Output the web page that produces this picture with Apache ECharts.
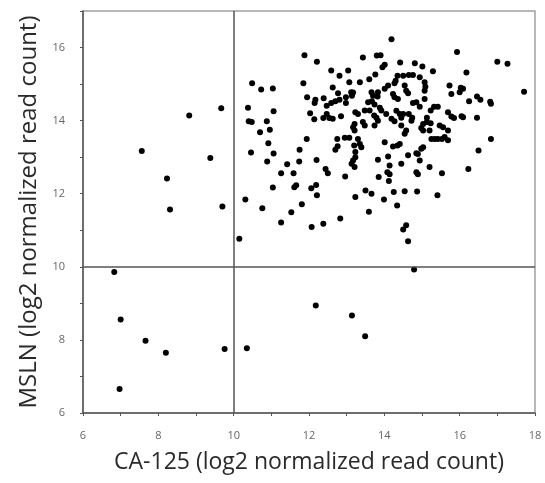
<!DOCTYPE html>
<html><head><meta charset="utf-8">
<script src="https://cdn.jsdelivr.net/npm/echarts@6/dist/echarts.min.js"></script>
<style>html,body{margin:0;padding:0;background:#fff}#c{width:545px;height:483px}</style>
</head><body><div id="c"></div>
<script>
// CA-125 (x) values
const ca125 = [
8.82,9.67,7.56,9.38,8.23,8.31,9.70,6.83,7.00,7.66,8.20,9.76,6.97,10.35,12.18,13.14,13.49,14.79,10.15,
11.88,12.21,12.59,12.81,13.04,13.07,10.49,10.73,11.04,11.85,12.63,12.77,11.95,12.17,12.15,12.39,12.59,12.70,12.81,12.47,12.98,12.98,13.12,10.38,11.06,12.03,12.14,12.38,12.47,12.54,12.63,12.85,10.40,10.48,10.88,10.96,10.70,11.94,12.75,12.95,13.07,12.76,12.70,10.92,10.46,11.06,11.75,10.89,11.74,11.42,12.20,12.44,12.50,11.26,11.59,12.96,13.13,11.04,11.61,11.66,12.06,12.19,12.21,10.31,10.76,11.81,11.53,11.26,12.07,12.38,12.83,
14.19,15.93,13.43,13.80,13.90,14.42,14.81,14.01,13.95,15.01,15.29,16.18,13.76,13.60,13.35,14.35,14.50,14.65,14.76,14.94,14.30,14.27,14.10,14.01,15.07,15.09,15.07,14.54,14.58,14.63,15.73,15.78,16.09,16.00,13.17,13.14,13.66,13.83,13.70,13.82,14.23,14.27,14.36,15.07,14.85,14.94,14.76,15.32,15.23,15.42,13.57,13.67,13.74,13.88,13.92,14.05,13.61,13.48,13.23,13.30,14.32,14.41,14.50,14.45,14.65,14.74,14.72,14.19,14.27,13.73,13.79,13.83,15.69,15.78,15.85,16.09,15.13,15.13,15.03,14.98,15.03,15.23,15.20,15.47,15.56,15.69,13.21,13.17,13.21,13.43,13.48,13.74,14.45,14.54,14.58,13.30,13.35,13.39,15.25,15.34,15.42,15.53,15.60,15.69,14.01,14.23,14.35,14.41,13.20,13.23,14.98,15.03,14.89,14.85,14.10,14.63,13.23,13.17,13.21,13.83,14.45,14.14,14.94,15.20,14.85,14.89,14.08,14.14,15.53,13.85,14.12,13.50,13.66,14.25,14.54,14.87,13.23,13.99,15.41,14.34,13.59,14.58,14.50,14.63,
16.03,16.25,16.46,16.55,16.81,16.83,16.05,16.46,16.83,16.50,16.23,17.00,17.27,17.71
];
// MSLN (y) values
const msln = [
14.14,14.34,13.17,12.98,12.42,11.57,11.65,9.86,8.56,7.98,7.65,7.75,6.66,7.77,8.94,8.67,8.10,9.93,10.77,
15.79,15.61,15.37,15.23,15.37,15.05,15.02,14.85,14.88,15.02,14.91,14.75,14.64,14.57,14.48,14.61,14.48,14.53,14.57,14.41,14.64,14.48,14.78,14.35,14.26,14.20,14.04,14.07,14.18,14.07,14.05,14.12,13.98,13.96,13.98,13.75,13.68,13.50,13.50,13.53,13.53,13.30,13.20,13.38,13.13,13.10,13.20,12.88,12.88,12.81,12.92,12.68,12.56,12.56,12.56,12.47,12.82,12.17,12.18,12.23,12.15,12.24,11.96,11.84,11.60,11.71,11.49,11.21,11.09,11.18,11.32,
16.23,15.88,15.73,15.78,15.79,15.59,15.57,15.53,15.46,15.48,15.35,15.32,15.26,15.13,15.05,15.23,15.23,15.25,15.25,15.19,15.09,15.02,14.96,14.87,15.05,14.93,14.82,14.96,14.82,14.75,14.96,14.73,14.87,14.78,14.77,14.68,14.78,14.78,14.68,14.66,14.73,14.64,14.59,14.59,14.50,14.38,14.48,14.38,14.28,14.38,14.50,14.53,14.44,14.35,14.28,14.18,14.28,14.28,14.23,14.18,14.27,14.18,14.18,14.08,14.18,14.08,14.00,14.05,13.98,14.14,14.08,14.00,14.23,14.11,14.07,14.09,14.08,13.96,13.91,13.80,13.73,13.93,13.73,13.87,13.82,13.73,13.91,13.82,13.73,13.96,13.87,13.87,13.87,13.64,13.73,13.50,13.36,13.27,13.50,13.50,13.50,13.50,13.55,13.46,13.41,13.29,13.32,13.36,13.32,13.14,13.23,13.27,13.09,13.11,13.02,13.05,13.00,12.91,12.73,12.93,12.82,12.77,12.91,12.73,12.59,12.53,12.59,12.53,12.56,12.46,12.35,12.09,12.00,12.05,12.07,12.06,11.91,11.84,11.96,11.68,11.51,11.14,11.02,10.70,
14.90,14.53,14.66,14.57,14.52,14.46,14.12,14.08,13.50,13.18,12.68,15.61,15.56,14.79
];
const xTickLabels = [6, 8, 10, 12, 14, 16, 18];
const yTickLabels = [6, 8, 10, 12, 14, 16];
const xTitle = 'CA-125 (log2 normalized read count)';
const yTitle = 'MSLN (log2 normalized read count)';

const points = ca125.map((x, i) => [x, msln[i]]);
const chart = echarts.init(document.getElementById('c'), null, {renderer: 'canvas'});
const font = '"Open Sans", sans-serif';
chart.setOption({
  animation: false,
  grid: {left: 83, right: 10, top: 11, bottom: 70, show: true, borderColor: '#a0a0a0', borderWidth: 1.5},
  xAxis: {
    type: 'value', min: 6, max: 18, interval: 1,
    name: xTitle, nameLocation: 'middle', nameGap: 38,
    nameTextStyle: {fontSize: 23, color: '#2a2a2a', fontFamily: font},
    axisLine: {show: true, lineStyle: {color: '#555', width: 1.5}},
    axisTick: {show: true, length: 3, lineStyle: {color: '#555'}},
    axisLabel: {fontSize: 11, color: '#666', fontFamily: font, margin: 17,
      formatter: v => xTickLabels.includes(v) ? String(v) : ''},
    splitLine: {show: false}
  },
  yAxis: {
    type: 'value', min: 6, max: 17, interval: 1,
    name: yTitle, nameLocation: 'middle', nameGap: 42,
    nameTextStyle: {fontSize: 24, color: '#2a2a2a', fontFamily: font},
    axisLine: {show: true, lineStyle: {color: '#555', width: 1.5}},
    axisTick: {show: true, length: 3, lineStyle: {color: '#555'}},
    axisLabel: {fontSize: 11, color: '#666', fontFamily: font, margin: 18,
      formatter: v => yTickLabels.includes(v) ? String(v) : ''},
    splitLine: {show: false}
  },
  series: [{
    type: 'scatter', data: points, symbolSize: 6,
    itemStyle: {color: '#000', opacity: 1},
    markLine: {
      silent: true, symbol: 'none', label: {show: false},
      lineStyle: {color: '#555', width: 1.5, type: 'solid'},
      data: [{xAxis: 10}, {yAxis: 10}]
    }
  }]
});
</script></body></html>
